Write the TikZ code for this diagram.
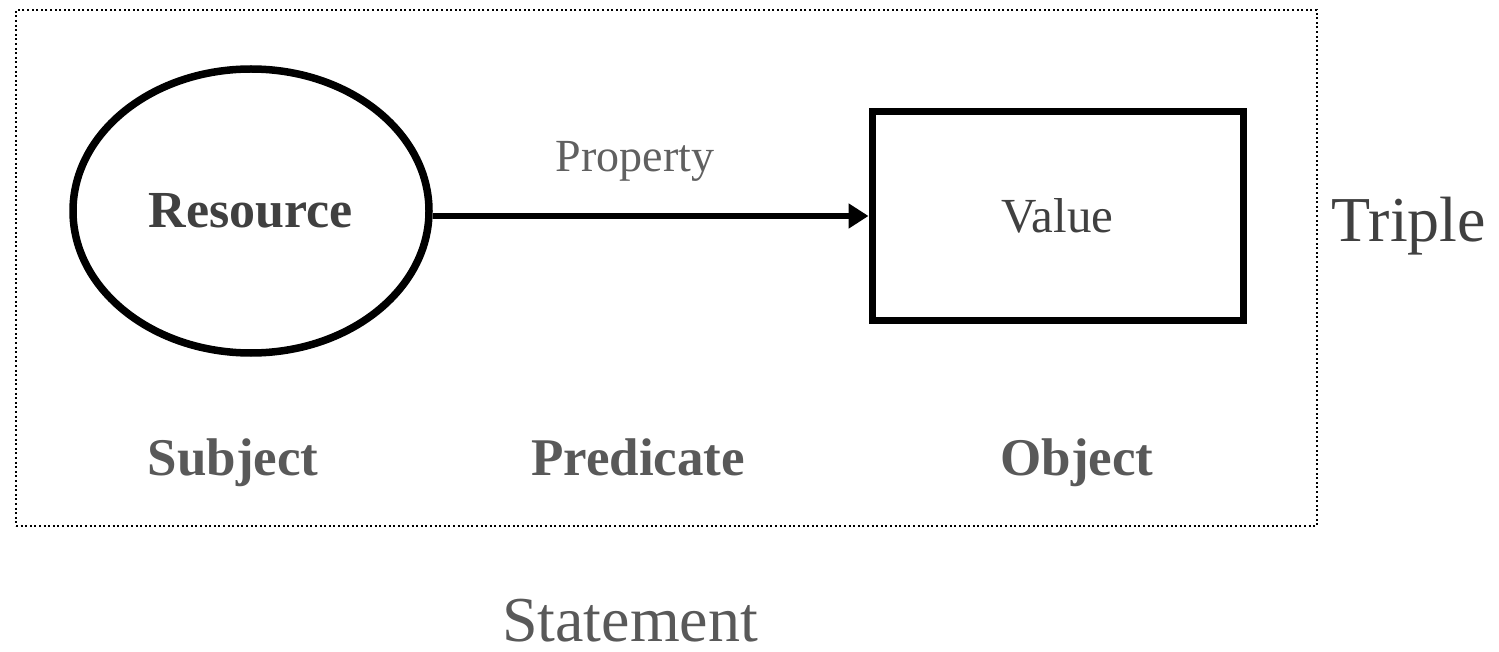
\documentclass[tikz,border=0pt]{standalone}
\usepackage{fontspec}
\setmainfont{Liberation Serif}
\usetikzlibrary{shapes.geometric,arrows.meta}
\definecolor{darktxt}{HTML}{404040}
\definecolor{midtxt}{HTML}{595959}
\definecolor{lighttxt}{HTML}{606060}
\tikzset{
  frame/.style={draw=black, line width=2pt, dash pattern=on 2pt off 2.6pt, inner sep=0pt},
  resnode/.style={ellipse, draw=black, line width=7.5pt, inner sep=0pt, text=darktxt,
    font=\fontsize{52}{56}\selectfont\bfseries},
  valnode/.style={rectangle, draw=black, line width=7pt, inner sep=0pt, text=darktxt,
    font=\fontsize{49}{52}\selectfont},
  proparrow/.style={line width=6pt, -{Triangle[length=20pt,width=24pt]}},
  roletxt/.style={anchor=base, text=midtxt, inner sep=0pt, font=\fontsize{53}{56}\selectfont\bfseries},
  bigtxt/.style={anchor=base, text=darktxt, inner sep=0pt, font=\fontsize{64}{68}\selectfont},
  proptxt/.style={anchor=base, text=lighttxt, inner sep=0pt, font=\fontsize{46}{50}\selectfont}
}
\begin{document}
\begin{tikzpicture}[x=1pt,y=-1pt]
\useasboundingbox (0,0) rectangle (1499,652);
\node[frame, minimum width=1301pt, minimum height=516pt] (frame) at (666.5,268) {};
\node[resnode, minimum width=356pt, minimum height=284pt] (res) at (251,211) {Resource};
\node[valnode, minimum width=371pt, minimum height=209pt] (val) at (1057.5,216) {Value};
\draw[proparrow] (res.east |- val.west) -- (val.west);
\node[proptxt] (prop) at (635,172) {Property};
\node[bigtxt] (triple) at (1409,242) {Triple};
\node[roletxt] (subj) at (233,475) {Subject};
\node[roletxt] (pred) at (638,475) {Predicate};
\node[roletxt] (obj) at (1077,475) {Object};
\node[bigtxt, text=midtxt] (stmt) at (630,641) {Statement};
\end{tikzpicture}
\end{document}
